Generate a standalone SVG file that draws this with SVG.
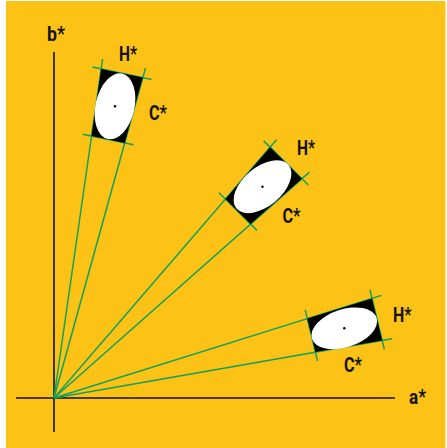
<svg xmlns="http://www.w3.org/2000/svg" width="447" height="448" viewBox="0 0 447 448">
<style>
.bg{fill:#FCC216}
.axis{stroke:#111;stroke-width:1.6;fill:none}
.gl{stroke:#14A05A;stroke-width:1.5;fill:none;stroke-linecap:butt}
.box{fill:#000}
.ell{fill:#fff}
.dot{fill:#000}
.lbl{font-family:Roboto,"Liberation Sans",sans-serif;font-size:20.5px;font-weight:700;fill:#111}
</style>
<rect x="0" y="0" width="447" height="448" fill="#fff"/>
<rect class="bg" x="6" y="1" width="439.5" height="447"/>
<g id="axes">
<line class="axis" x1="54" y1="52" x2="54" y2="432"/>
<line class="axis" x1="16" y1="398" x2="395" y2="398"/>
<text class="lbl" x="47" y="41" textLength="18" lengthAdjust="spacingAndGlyphs">b*</text>
<text class="lbl" x="409" y="404" textLength="17" lengthAdjust="spacingAndGlyphs">a*</text>
</g>
<g id="connectors">
<line class="gl" x1="54" y1="398" x2="145.5" y2="68"/>
<line class="gl" x1="54" y1="398" x2="102.6" y2="59"/>
<line class="gl" x1="92.3" y1="67.1" x2="151.6" y2="79.4"/>
<line class="gl" x1="82.7" y1="134.3" x2="133.5" y2="144.8"/>
<line class="gl" x1="54" y1="398" x2="309.4" y2="172.1"/>
<line class="gl" x1="54" y1="398" x2="276.6" y2="139.7"/>
<line class="gl" x1="263.7" y1="140.9" x2="308.3" y2="185"/>
<line class="gl" x1="219" y1="192.8" x2="257" y2="230.4"/>
<line class="gl" x1="54" y1="398" x2="392" y2="338.7"/>
<line class="gl" x1="54" y1="398" x2="381.5" y2="295.4"/>
<line class="gl" x1="369.9" y1="289.6" x2="384.3" y2="349.2"/>
<line class="gl" x1="305.2" y1="309.9" x2="317.5" y2="360.9"/>
</g>
<g id="node-top">
<polygon class="box" points="101.1,68.9 142.8,77.6 124.7,143 91.5,136.1"/>
<ellipse class="ell" cx="115" cy="106.3" rx="33.5" ry="19.5" transform="rotate(-77.5 115 106.3)"/>
<circle class="dot" cx="115" cy="106.3" r="1.2"/>
<text class="lbl" x="119" y="60.5" textLength="18" lengthAdjust="spacingAndGlyphs">H*</text>
<text class="lbl" x="149" y="120" textLength="18" lengthAdjust="spacingAndGlyphs">C*</text>
</g>
<g id="node-middle">
<polygon class="box" points="270.1,147.2 301.9,178.7 250.6,224.1 225.4,199.1"/>
<ellipse class="ell" cx="262.5" cy="186.7" rx="34" ry="19.5" transform="rotate(-40 262.5 186.7)"/>
<circle class="dot" cx="262.5" cy="186.7" r="1.2"/>
<text class="lbl" x="297" y="155" textLength="18" lengthAdjust="spacingAndGlyphs">H*</text>
<text class="lbl" x="282.5" y="223" textLength="18" lengthAdjust="spacingAndGlyphs">C*</text>
</g>
<g id="node-bottom">
<polygon class="box" points="307.3,318.6 372,298.4 382.2,340.4 315.4,352.1"/>
<ellipse class="ell" cx="344.3" cy="328.3" rx="34" ry="19" transform="rotate(-18 344.3 328.3)"/>
<circle class="dot" cx="344.3" cy="328.3" r="1.2"/>
<text class="lbl" x="393" y="321.5" textLength="18.5" lengthAdjust="spacingAndGlyphs">H*</text>
<text class="lbl" x="344" y="371.5" textLength="18" lengthAdjust="spacingAndGlyphs">C*</text>
</g>
</svg>
